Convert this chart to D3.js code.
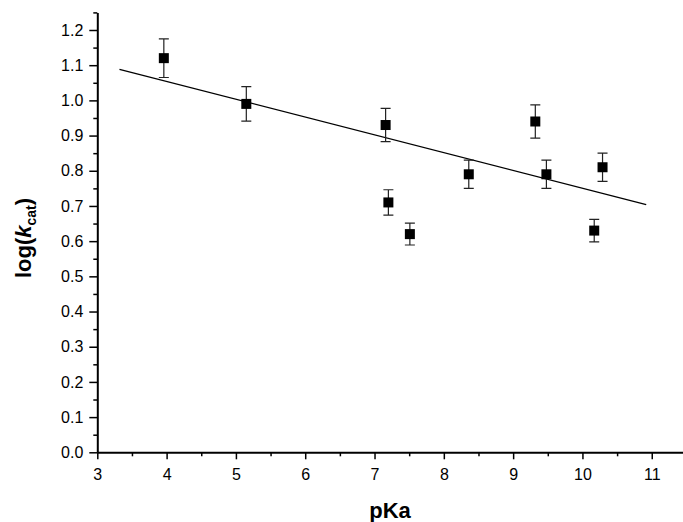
<!DOCTYPE html>
<html>
<head>
<meta charset="utf-8">
<script src="https://cdn.jsdelivr.net/npm/d3@7"></script>
<style>
  body { margin: 0; background: #fff; }
  text { font-family: "Liberation Sans", Arial, sans-serif; }
</style>
</head>
<body>
<div id="chart"></div>
<script>
// measured points: pKa, log(kcat), error
var pKa = [3.96, 5.15, 7.16, 7.2, 7.51, 8.36, 9.32, 9.48, 10.17, 10.29];
var logKcat = [1.12, 0.99, 0.93, 0.71, 0.62, 0.79, 0.94, 0.79, 0.63, 0.81];
var errors = [0.055, 0.049, 0.047, 0.036, 0.031, 0.04, 0.047, 0.04, 0.032, 0.04];

// linear fit end points
var fitX = [3.32, 10.92];
var fitY = [1.088, 0.704];

var xTicks = [3, 4, 5, 6, 7, 8, 9, 10, 11];
var yTicks = [0, 0.1, 0.2, 0.3, 0.4, 0.5, 0.6, 0.7, 0.8, 0.9, 1.0, 1.1, 1.2];

function scatterChart() {
    var width = 683;
    var height = 522;

    var svg = d3.select('#chart')
      .append('svg')
      .attr('width', width)
      .attr('height', height);

    var x = d3.scaleLinear().domain([3, 11.5]).range([97.3, 686.4]);
    var y = d3.scaleLinear().domain([0, 1.25]).range([452.3, 12.4]);

    // minor ticks
    var xMinor = d3.range(3.5, 11.5, 1);
    var yMinor = d3.range(0.05, 1.3, 0.1);

    svg.append('g')
      .attr('transform', 'translate(0,452.3)')
      .call(d3.axisBottom(x).tickValues(xMinor).tickSize(4).tickFormat(''))
      .call(function(g) { g.select('.domain').remove(); })
      .selectAll('line').attr('stroke-width', 1.5);

    svg.append('g')
      .attr('transform', 'translate(97.3,0)')
      .call(d3.axisLeft(y).tickValues(yMinor).tickSize(4).tickFormat(''))
      .call(function(g) { g.select('.domain').remove(); })
      .selectAll('line').attr('stroke-width', 1.5);

    var xAxis = svg.append('g')
      .attr('transform', 'translate(0,452.3)')
      .call(d3.axisBottom(x).tickValues(xTicks).tickSize(7).tickSizeOuter(0).tickPadding(9));
    xAxis.select('.domain').attr('stroke-width', 2);
    xAxis.selectAll('line').attr('stroke-width', 1.5);
    xAxis.selectAll('text').attr('font-size', 16).attr('fill', '#000');

    var yAxis = svg.append('g')
      .attr('transform', 'translate(97.3,0)')
      .call(d3.axisLeft(y).tickValues(yTicks).tickSize(8).tickSizeOuter(0).tickPadding(6)
        .tickFormat(d3.format('.1f')));
    yAxis.select('.domain').attr('stroke-width', 2);
    yAxis.selectAll('line').attr('stroke-width', 1.5);
    yAxis.selectAll('text').attr('font-size', 16).attr('fill', '#000');

    // fit line
    svg.append('line')
      .attr('x1', x(fitX[0])).attr('y1', y(fitY[0]))
      .attr('x2', x(fitX[1])).attr('y2', y(fitY[1]))
      .attr('stroke', '#000')
      .attr('stroke-width', 1.3);

    var data = pKa.map(function(d, i) {
      return {x: d, y: logKcat[i], e: errors[i]};
    });

    var bars = svg.append('g').attr('stroke', '#222').attr('stroke-width', 1.2);
    bars.selectAll('.eb')
      .data(data)
      .enter()
      .append('path')
      .attr('fill', 'none')
      .attr('d', function(d) {
        var cx = x(d.x), t = y(d.y + d.e), b = y(d.y - d.e);
        return 'M' + (cx - 5) + ',' + t + 'H' + (cx + 5) +
               'M' + cx + ',' + t + 'V' + b +
               'M' + (cx - 5) + ',' + b + 'H' + (cx + 5);
      });

    svg.selectAll('.pt')
      .data(data)
      .enter()
      .append('rect')
      .attr('x', function(d) { return x(d.x) - 5; })
      .attr('y', function(d) { return y(d.y) - 5; })
      .attr('width', 10)
      .attr('height', 10)
      .attr('fill', '#000');

    svg.append('text')
      .attr('x', 390)
      .attr('y', 518)
      .attr('text-anchor', 'middle')
      .attr('font-size', 22)
      .attr('font-weight', 'bold')
      .text('pKa');

    var yl = svg.append('text')
      .attr('transform', 'translate(31,238) rotate(-90)')
      .attr('text-anchor', 'middle')
      .attr('font-size', 22)
      .attr('font-weight', 'bold');
    yl.append('tspan').text('log(');
    yl.append('tspan').attr('font-style', 'italic').text('k');
    yl.append('tspan').attr('font-size', 14).attr('dy', 5).text('cat');
    yl.append('tspan').attr('dy', -5).text(')');
}

scatterChart();
</script>
</body>
</html>
